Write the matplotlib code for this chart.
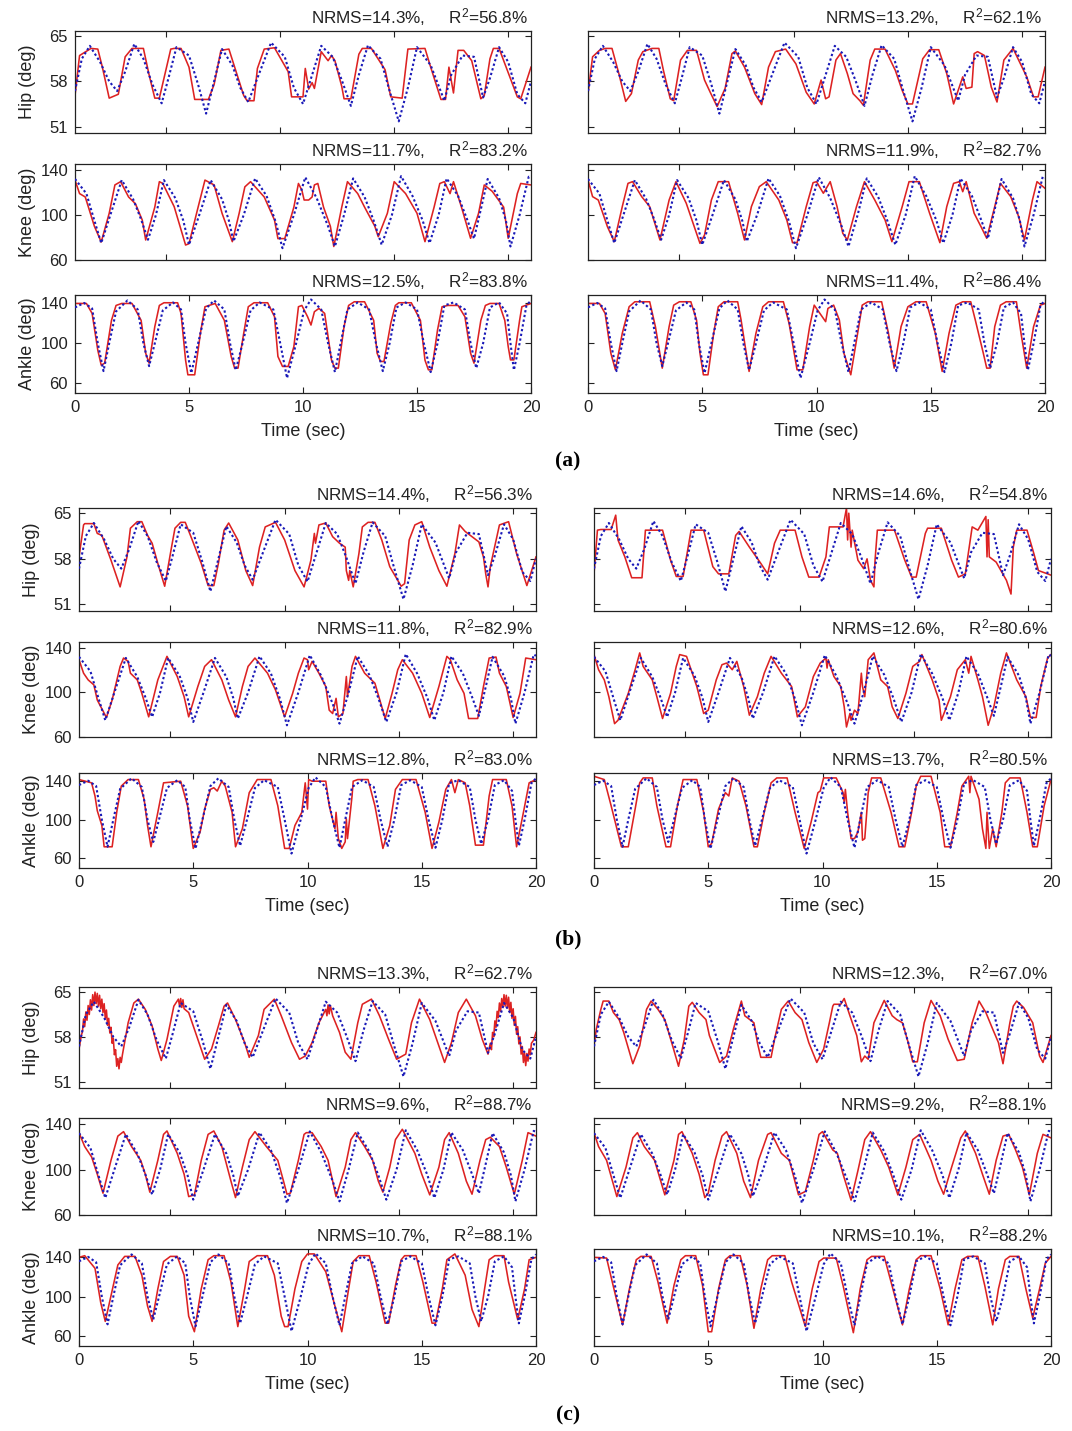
import matplotlib
matplotlib.use('Agg')
import matplotlib.pyplot as plt

plt.rcParams['font.family'] = ['Liberation Sans', 'DejaVu Sans']
plt.rcParams['mathtext.default'] = 'regular'

# measured joint angles (blue dotted) - same trial in every panel
meas_hip_t = [0, 0.3, 0.65, 1.1, 1.5, 1.85, 2.2, 2.6, 3.0, 3.4, 3.8, 4.1, 4.45, 5.0, 5.4, 5.75, 6.1, 6.45, 6.9, 7.25, 7.6, 8.0, 8.6, 9.2, 9.6, 10.0, 10.4, 10.8, 11.3, 11.7, 12.1, 12.45, 12.85, 13.4, 13.8, 14.2, 14.6, 15.0, 15.6, 16.2, 16.5, 17.0, 17.5, 17.9, 18.2, 18.6, 19.0, 19.4, 19.75, 20.0]
meas_hip = [56.5, 61.5, 63.5, 61.0, 58.0, 56.5, 59.5, 63.8, 61.5, 57.5, 54.6, 58.5, 63.3, 62.0, 57.5, 53.0, 58.0, 63.0, 60.5, 57.0, 54.8, 58.5, 64.0, 61.8, 57.0, 54.5, 59.0, 63.5, 61.8, 58.2, 54.2, 59.0, 63.6, 61.5, 56.5, 51.8, 57.0, 63.3, 60.5, 55.0, 59.0, 62.0, 61.8, 55.5, 58.5, 63.3, 61.0, 56.0, 54.6, 58.0]
meas_knee_t = [0, 0.5, 0.85, 1.15, 1.55, 2.05, 2.55, 2.9, 3.2, 3.55, 3.9, 4.4, 4.75, 5.0, 5.45, 5.95, 6.45, 6.75, 6.95, 7.4, 7.9, 8.4, 8.8, 9.1, 9.6, 10.1, 10.6, 11.1, 11.4, 11.8, 12.2, 12.7, 13.1, 13.45, 13.9, 14.3, 14.8, 15.25, 15.55, 15.95, 16.3, 16.8, 17.2, 17.5, 17.8, 18.1, 18.6, 18.9, 19.1, 19.5, 19.9, 20.0]
meas_knee = [132, 119, 95, 75, 100, 131, 114, 96, 78, 100, 131, 115, 95, 73.5, 100, 131, 114, 95, 76.5, 100, 132.5, 117, 94, 70.5, 100, 133.5, 115, 90, 72, 100, 132.5, 116, 95, 73.5, 100, 134.5, 117, 95, 75, 100, 132.5, 117, 96, 79, 105, 132, 115, 95, 72, 100, 134, 133]
meas_ankle_t = [0, 0.4, 0.75, 1.0, 1.25, 1.5, 1.8, 2.3, 2.75, 3.0, 3.25, 3.5, 3.85, 4.3, 4.65, 4.85, 5.1, 5.4, 5.75, 6.1, 6.55, 6.8, 7.05, 7.35, 7.7, 8.1, 8.7, 9.0, 9.3, 9.7, 10.05, 10.35, 10.8, 11.1, 11.4, 11.65, 11.95, 12.4, 12.9, 13.2, 13.5, 13.8, 14.1, 14.5, 15.0, 15.3, 15.6, 15.9, 16.2, 16.6, 17.1, 17.35, 17.6, 17.9, 18.2, 18.6, 18.95, 19.1, 19.25, 19.5, 19.8, 20.0]
meas_ankle = [136, 140.5, 135, 100, 72, 100, 132, 143, 134, 100, 77, 100, 133, 141, 134, 100, 70, 100, 135, 143, 134, 100, 73, 100, 133, 141, 134, 100, 65, 100, 133, 144, 134, 100, 71, 100, 134, 141, 134, 100, 72, 100, 136, 141, 134, 100, 71, 100, 138, 141, 134, 100, 75, 100, 136, 141, 130, 100, 73, 100, 138, 143]

# estimated joint angles (red), figure (a)
est_a_left_hip_t = [0, 0.2, 0.7, 1.0, 1.2, 1.5, 1.9, 2.2, 2.5, 3.0, 3.25, 3.5, 3.7, 4.2, 4.35, 4.65, 5.0, 5.25, 5.85, 6.1, 6.4, 6.75, 7.4, 7.55, 7.85, 8.0, 8.3, 8.75, 9.35, 9.5, 10.0, 10.1, 10.25, 10.4, 10.5, 10.8, 11.1, 11.25, 11.4, 11.7, 11.8, 12.1, 12.45, 12.6, 13.0, 13.6, 13.85, 14.35, 14.6, 15.35, 15.6, 16.05, 16.25, 16.4, 16.6, 16.8, 17.05, 17.4, 17.8, 17.95, 18.2, 18.35, 18.6, 19.4, 19.55, 20.0]
est_a_left_hip = [55.8, 62.0, 63.1, 63.0, 60.2, 55.4, 56.0, 61.8, 63.1, 63.1, 59.0, 55.4, 55.4, 63.0, 63.1, 63.1, 60.2, 55.2, 55.2, 57.5, 62.8, 63.0, 55.8, 55.0, 55.0, 60.0, 63.0, 63.2, 59.5, 55.6, 55.6, 60.0, 56.8, 57.8, 56.9, 62.6, 61.2, 62.0, 61.2, 57.2, 55.3, 55.3, 62.2, 63.1, 63.1, 59.8, 55.6, 55.4, 63.0, 63.1, 60.2, 55.2, 55.2, 60.2, 56.2, 62.8, 62.8, 61.2, 55.3, 55.8, 61.5, 63.1, 63.1, 55.6, 55.3, 60.2]
est_a_left_knee_t = [0, 0.2, 0.45, 0.85, 1.15, 1.5, 1.75, 2.0, 2.35, 2.65, 2.95, 3.1, 3.5, 3.7, 3.85, 4.35, 4.85, 5.0, 5.4, 5.7, 6.1, 6.45, 6.9, 7.2, 7.45, 7.7, 8.3, 8.75, 8.9, 9.2, 9.6, 9.8, 9.95, 10.05, 10.25, 10.4, 10.5, 10.65, 10.9, 11.2, 11.35, 11.7, 11.95, 12.4, 12.7, 13.15, 13.3, 13.7, 14.0, 14.5, 15.0, 15.35, 15.75, 16.0, 16.2, 16.45, 16.6, 16.95, 17.35, 17.7, 17.95, 18.3, 18.8, 19.0, 19.4, 19.55, 20.0]
est_a_left_knee = [131, 119, 116, 90, 76, 101.5, 126.7, 129.6, 116, 110, 95.5, 77.8, 107, 129.6, 128, 107.4, 73.3, 74.5, 107, 131, 126.7, 101.5, 76.3, 101.5, 125, 129.6, 116, 95.5, 79, 79, 107, 128, 122, 113.3, 113.3, 116, 126.7, 128, 107, 90, 72, 107, 129.6, 119, 107, 90, 80.7, 101.5, 129.6, 119, 101.5, 76.3, 107, 128, 129.6, 119, 129.6, 107, 79.3, 101.5, 126.7, 121, 107, 79.3, 119, 128, 126.7]
est_a_left_ankle_t = [0, 0.5, 0.75, 1.0, 1.15, 1.3, 1.6, 1.8, 2.05, 2.5, 2.9, 3.1, 3.25, 3.5, 3.7, 3.9, 4.5, 4.65, 4.85, 4.95, 5.25, 5.5, 5.7, 6.15, 6.55, 6.85, 7.0, 7.15, 7.4, 7.6, 7.85, 8.45, 8.75, 8.9, 9.1, 9.35, 9.6, 9.8, 9.95, 10.2, 10.35, 10.5, 10.7, 10.95, 11.25, 11.4, 11.55, 11.8, 12.0, 12.25, 12.7, 13.1, 13.25, 13.4, 13.55, 13.85, 14.05, 14.2, 14.75, 15.15, 15.35, 15.5, 15.65, 15.9, 16.1, 16.35, 16.8, 17.1, 17.35, 17.5, 17.8, 18.0, 18.2, 18.6, 18.85, 19.0, 19.1, 19.25, 19.5, 19.6, 20.0]
est_a_left_ankle = [140, 140, 130, 93, 78, 80, 123, 138, 140, 140, 123, 90, 80, 116.7, 138, 140.7, 140.7, 130, 83, 68.3, 68.3, 110, 136.7, 140, 123, 86.7, 75, 75, 110, 136.7, 140.7, 140.7, 126.7, 86.7, 76.7, 76.7, 96.7, 136.7, 138, 126.7, 118.3, 131.7, 135, 130, 83, 75, 75, 116.7, 138, 141.7, 141.7, 123, 90, 81.7, 81.7, 120, 138, 140.7, 140.7, 123, 83, 73.3, 73.3, 113.3, 136.7, 138, 138, 126.7, 90, 80, 123, 138, 140, 140, 123, 96.7, 83.3, 83.3, 123, 136.7, 140]
est_a_right_hip_t = [0, 0.2, 0.5, 0.75, 1.05, 1.35, 1.65, 1.9, 2.2, 2.4, 2.8, 3.1, 3.3, 3.6, 3.75, 4.05, 4.35, 4.75, 5.1, 5.35, 5.65, 6.0, 6.3, 6.45, 6.85, 7.3, 7.6, 7.9, 8.2, 8.65, 9.1, 9.55, 9.9, 10.2, 10.4, 10.55, 10.85, 11.05, 11.35, 11.6, 11.9, 12.05, 12.35, 12.55, 13.0, 13.45, 13.75, 14.0, 14.2, 14.65, 14.95, 15.35, 15.7, 16.0, 16.4, 16.55, 16.8, 16.9, 17.05, 17.35, 17.65, 17.9, 18.2, 18.6, 19.2, 19.5, 19.7, 20.0]
est_a_right_hip = [56.1, 61.8, 62.8, 63.1, 63.1, 59.2, 54.9, 56.1, 61.3, 62.6, 63.1, 63.1, 59.7, 55.3, 55.0, 61.3, 62.8, 62.8, 58.2, 56.3, 54.1, 56.9, 62.3, 62.7, 60.2, 56.1, 54.4, 60.2, 62.6, 63.0, 60.7, 56.3, 54.5, 58.2, 55.3, 55.6, 61.3, 62.3, 59.2, 56.1, 55.0, 54.3, 61.3, 63.0, 63.0, 59.7, 56.6, 54.5, 54.5, 61.5, 62.9, 62.9, 59.2, 54.5, 58.7, 56.9, 57.1, 62.3, 62.6, 62.0, 57.1, 54.8, 61.3, 63.1, 58.7, 55.6, 55.6, 60.2]
est_a_right_knee_t = [0, 0.2, 0.45, 0.85, 1.15, 1.5, 1.75, 1.95, 2.35, 2.7, 3.15, 3.55, 3.85, 4.3, 4.65, 4.9, 5.1, 5.4, 5.7, 6.15, 6.55, 6.85, 7.15, 7.5, 7.8, 8.35, 8.7, 8.95, 9.15, 9.55, 9.85, 10.0, 10.3, 10.6, 10.9, 11.15, 11.35, 11.75, 12.1, 12.55, 13.0, 13.3, 13.75, 14.05, 14.5, 14.95, 15.4, 15.7, 16.0, 16.25, 16.4, 16.55, 16.9, 17.2, 17.45, 17.8, 18.05, 18.5, 18.85, 19.1, 19.45, 19.65, 20.0]
est_a_right_knee = [131.1, 116.3, 113.3, 89.6, 76.3, 107.4, 128.1, 129.6, 116.3, 107.4, 77.8, 113.3, 129.6, 110.4, 89.6, 74.8, 82.2, 113.3, 129.6, 129.6, 101.5, 77.8, 107.4, 125.2, 129.6, 113.3, 95.6, 75.4, 75.4, 107.4, 128.7, 129.6, 119.3, 129.6, 107.4, 83.7, 77.8, 107.4, 129.6, 113.3, 95.6, 76.3, 107.4, 129.6, 129.6, 101.5, 75.4, 107.4, 128.1, 129.6, 120.7, 129.6, 101.5, 89.6, 79.3, 107.4, 128.1, 116.3, 98.5, 77.8, 113.3, 129.6, 123.7]
est_a_right_ankle_t = [0, 0.5, 0.75, 1.0, 1.2, 1.5, 1.8, 2.05, 2.7, 2.95, 3.25, 3.55, 3.75, 4.0, 4.5, 4.75, 4.9, 5.05, 5.25, 5.5, 5.7, 5.95, 6.55, 6.7, 7.05, 7.35, 7.65, 7.9, 8.55, 8.8, 9.15, 9.4, 9.7, 9.9, 10.2, 10.4, 10.5, 10.75, 11.0, 11.2, 11.5, 11.8, 12.0, 12.25, 12.85, 13.15, 13.4, 13.7, 14.0, 14.35, 14.8, 15.2, 15.5, 15.8, 16.1, 16.4, 16.75, 16.95, 17.3, 17.45, 17.6, 17.8, 18.05, 18.3, 18.75, 18.95, 19.2, 19.5, 19.8, 20.0]
est_a_right_ankle = [140, 140, 130, 90, 73.3, 110, 136.7, 141.7, 141.7, 116.7, 75, 116.7, 138.3, 141.7, 141.7, 123.3, 90, 68.3, 68.3, 110, 136.7, 141.7, 141.7, 123.3, 71.7, 110, 136.7, 141.7, 141.7, 120, 73.3, 73.3, 116.7, 138.3, 128.3, 121.7, 135, 138.3, 123.3, 90, 68.3, 110, 138.3, 141.7, 141.7, 110, 75, 116.7, 136.7, 141.7, 141.7, 110, 71.7, 110, 138.3, 141.7, 141.7, 123.3, 90, 75, 75, 116.7, 138.3, 141.7, 141.7, 110, 75, 116.7, 138.3, 140]

# figure (b)
est_b_left_hip_t = [0, 0.2, 0.25, 0.65, 0.8, 1.0, 1.4, 1.8, 2.1, 2.25, 2.55, 2.75, 3.0, 3.2, 3.45, 3.75, 4.05, 4.2, 4.45, 4.65, 4.9, 5.35, 5.65, 5.9, 6.1, 6.35, 6.55, 6.95, 7.3, 7.6, 7.9, 8.15, 8.6, 9.0, 9.45, 9.85, 10.15, 10.3, 10.35, 10.5, 10.8, 11.1, 11.4, 11.65, 11.7, 11.8, 11.85, 12.0, 12.25, 12.4, 12.65, 12.95, 13.25, 13.6, 14.1, 14.25, 14.45, 14.7, 15.0, 15.35, 15.75, 16.1, 16.45, 16.65, 16.9, 17.5, 17.7, 17.8, 17.9, 18.0, 18.4, 18.8, 19.15, 19.6, 20.0]
est_b_left_hip = [58.3, 63.2, 63.4, 63.4, 61.9, 61.6, 57.8, 53.7, 58.3, 62.7, 63.7, 63.7, 61.6, 60.4, 57.3, 53.8, 59.8, 62.7, 63.6, 63.6, 61.4, 57.3, 53.9, 53.9, 57.3, 62.4, 63.5, 60.9, 56.2, 53.9, 59.8, 62.9, 63.6, 60.9, 56.2, 53.7, 57.8, 61.9, 60.4, 63.2, 63.5, 61.4, 60.4, 59.8, 56.2, 54.7, 56.2, 53.7, 58.8, 62.9, 63.6, 63.6, 60.9, 56.8, 53.8, 54.2, 60.9, 63.2, 63.7, 59.8, 56.2, 53.8, 58.8, 63.2, 62.2, 60.6, 58.3, 55.7, 53.7, 56.8, 63.2, 63.7, 58.8, 53.9, 58.3]
est_b_left_knee_t = [0, 0.2, 0.4, 0.65, 0.8, 1.2, 1.45, 1.8, 1.95, 2.15, 2.25, 2.55, 2.75, 3.05, 3.45, 3.85, 4.3, 4.6, 4.8, 5.2, 5.5, 5.8, 6.25, 6.55, 6.85, 7.15, 7.4, 7.7, 8.25, 8.6, 9.0, 9.35, 9.6, 9.85, 10.0, 10.05, 10.2, 10.5, 10.8, 10.95, 11.1, 11.25, 11.35, 11.55, 11.7, 11.75, 11.95, 12.1, 12.5, 12.95, 13.4, 13.7, 13.95, 14.15, 14.6, 15.0, 15.35, 15.75, 16.1, 16.25, 16.55, 16.85, 17.05, 17.45, 17.7, 17.95, 18.25, 18.4, 18.7, 19.0, 19.3, 19.55, 20.0]
est_b_left_knee = [129.4, 117.3, 111.3, 106.8, 93.2, 77.5, 93.2, 123.4, 130.9, 127.9, 117.3, 111.3, 99.2, 78.1, 111.3, 132.4, 114.3, 96.2, 78.1, 105.3, 123.4, 129.4, 111.3, 93.2, 78.1, 105.3, 123.4, 130.9, 117.3, 102.2, 78.1, 99.2, 117.3, 130.9, 129.4, 120.4, 127.9, 117.3, 105.3, 84.1, 81.1, 94.7, 78.1, 81.1, 114.3, 96.2, 123.4, 132.4, 117.3, 108.3, 76.6, 99.2, 120.4, 129.4, 117.3, 99.2, 77.5, 105.3, 132.4, 129.4, 111.3, 99.2, 76.6, 76.6, 105.3, 130.9, 131.8, 117.3, 105.3, 77.5, 99.2, 130.9, 129.4]
est_b_left_ankle_t = [0, 0.55, 0.7, 0.8, 1.0, 1.1, 1.45, 1.65, 1.85, 2.15, 2.6, 2.85, 3.0, 3.15, 3.45, 3.7, 4.45, 4.75, 5.0, 5.3, 5.5, 5.75, 5.9, 6.05, 6.25, 6.4, 6.7, 6.85, 7.15, 7.45, 7.8, 8.4, 8.7, 9.0, 9.2, 9.45, 9.75, 9.9, 10.0, 10.05, 10.2, 10.8, 10.95, 11.2, 11.25, 11.35, 11.5, 11.65, 11.7, 11.75, 11.95, 12.0, 12.2, 12.65, 12.95, 13.3, 13.6, 13.85, 14.15, 14.75, 15.15, 15.45, 15.75, 16.05, 16.3, 16.45, 16.6, 16.9, 17.1, 17.35, 17.7, 17.95, 18.1, 18.7, 18.95, 19.15, 19.45, 19.7, 20.0]
est_b_left_ankle = [141.7, 138.3, 124.7, 109.4, 94.1, 72.0, 72.0, 107.7, 134.9, 141.7, 141.7, 121.3, 94.1, 72.0, 107.7, 138.3, 140, 114.5, 70.3, 87.3, 111.1, 131.5, 133.2, 129.8, 140, 134.9, 107.7, 72.0, 90.7, 128.1, 141.7, 141.7, 114.5, 70.3, 70.3, 94.1, 107.7, 138.3, 111.1, 141.7, 140, 140, 114.5, 90.7, 107.7, 80.5, 70.3, 77.1, 100.9, 80.5, 124.7, 140, 141.7, 141.7, 114.5, 70.3, 94.1, 131.5, 141.7, 141.7, 107.7, 70.3, 97.5, 131.5, 141.7, 128.1, 141.7, 138.3, 114.5, 73.7, 73.7, 124.7, 141.7, 141.7, 114.5, 72.0, 107.7, 138.3, 141.7]
est_b_right_hip_t = [0, 0.15, 0.3, 0.75, 0.95, 1.05, 1.35, 1.65, 2.1, 2.25, 2.4, 3.0, 3.35, 3.6, 3.9, 4.25, 4.35, 4.8, 5.2, 5.45, 5.9, 6.2, 6.35, 6.8, 7.3, 7.6, 7.9, 8.15, 8.8, 9.1, 9.4, 9.85, 10.15, 10.3, 10.9, 11.05, 11.1, 11.15, 11.25, 11.3, 11.55, 11.8, 11.95, 12.1, 12.25, 12.3, 12.4, 13.15, 13.6, 13.9, 14.1, 14.5, 14.6, 15.2, 15.65, 15.95, 16.25, 16.55, 16.8, 17.15, 17.2, 17.25, 17.3, 17.6, 18.05, 18.25, 18.35, 18.5, 18.95, 19.25, 19.45, 19.85, 20.0]
est_b_right_hip = [55.7, 62.4, 62.5, 62.5, 64.7, 60.9, 58.3, 55.1, 55.1, 62.4, 62.4, 62.4, 57.8, 55.3, 55.3, 62.4, 62.4, 62.4, 56.8, 55.7, 55.7, 61.6, 62.2, 59.8, 57.3, 55.7, 60.4, 62.4, 62.4, 58.3, 55.2, 55.2, 58.3, 62.9, 62.9, 65.8, 60.9, 65.0, 59.8, 62.4, 57.8, 56.5, 58.0, 54.7, 53.7, 57.8, 62.4, 62.4, 57.8, 55.2, 55.2, 61.9, 62.7, 62.7, 57.8, 55.2, 55.7, 62.9, 62.4, 64.5, 58.3, 64.0, 58.3, 57.5, 54.7, 52.6, 59.8, 62.4, 62.4, 58.8, 56.2, 55.7, 55.5]
est_b_right_knee_t = [0, 0.2, 0.45, 0.65, 0.9, 1.05, 1.5, 1.8, 2.0, 2.15, 2.55, 2.75, 3.0, 3.35, 3.6, 3.75, 4.05, 4.5, 4.8, 5.0, 5.35, 5.6, 5.8, 6.05, 6.25, 6.55, 6.8, 7.15, 7.45, 7.75, 8.2, 8.65, 8.9, 9.25, 9.6, 9.9, 10.15, 10.2, 10.25, 10.5, 10.8, 10.95, 11.05, 11.2, 11.25, 11.4, 11.55, 11.7, 11.75, 11.85, 12.0, 12.25, 12.55, 12.85, 13.05, 13.3, 13.65, 13.95, 14.25, 14.35, 14.8, 15.1, 15.2, 15.6, 15.9, 16.25, 16.4, 16.5, 16.8, 17.0, 17.25, 17.5, 17.8, 18.05, 18.5, 18.9, 19.1, 19.35, 19.55, 19.85, 20.0]
est_b_right_knee = [134.0, 120.4, 111.3, 96.2, 72.0, 75.0, 99.2, 120.4, 135.5, 123.4, 111.3, 96.2, 76.6, 99.2, 123.4, 134.0, 132.4, 105.3, 81.1, 84.1, 111.3, 124.9, 126.4, 120.4, 127.9, 105.3, 79.6, 96.2, 117.3, 132.4, 117.3, 105.3, 78.1, 87.1, 114.3, 126.4, 130.9, 121.9, 129.4, 114.3, 105.3, 87.1, 69.0, 81.1, 75.0, 84.1, 81.1, 117.3, 105.3, 96.2, 129.4, 135.5, 111.3, 105.3, 87.1, 76.6, 99.2, 123.4, 127.9, 134.0, 111.3, 93.2, 75.0, 96.2, 120.4, 129.4, 117.3, 132.4, 111.3, 96.2, 70.5, 87.1, 117.3, 135.5, 111.3, 96.2, 77.5, 77.5, 105.3, 130.9, 134.0]
est_b_right_ankle_t = [0, 0.45, 0.75, 1.2, 1.5, 1.8, 2.0, 2.15, 2.55, 2.75, 3.15, 3.35, 3.65, 3.9, 4.5, 4.8, 5.0, 5.15, 5.45, 5.75, 5.9, 6.05, 6.35, 6.65, 7.0, 7.15, 7.45, 7.75, 8.0, 8.45, 8.8, 9.2, 9.5, 9.8, 9.9, 10.05, 10.6, 10.9, 10.95, 11.0, 11.1, 11.25, 11.4, 11.55, 11.7, 11.75, 11.85, 12.0, 12.15, 12.55, 13.0, 13.35, 13.6, 13.9, 14.1, 14.3, 14.75, 15.15, 15.35, 15.6, 15.9, 16.1, 16.4, 16.45, 16.5, 16.85, 17.0, 17.15, 17.2, 17.3, 17.45, 17.6, 17.85, 18.0, 18.2, 18.65, 18.95, 19.2, 19.4, 19.7, 20.0]
est_b_right_ankle = [145.1, 141.7, 114.5, 72.0, 72.0, 111.1, 138.3, 143.4, 143.4, 114.5, 72.0, 72.0, 114.5, 141.7, 141.7, 107.7, 72.0, 75.4, 111.1, 128.1, 124.7, 143.4, 140, 114.5, 72.0, 72.0, 107.7, 138.3, 143.4, 143.4, 107.7, 70.3, 97.5, 128.1, 129.8, 143.4, 143.4, 128.1, 117.9, 131.5, 107.7, 80.5, 80.5, 87.3, 107.7, 78.8, 80.5, 128.1, 143.4, 143.4, 107.7, 72.0, 72.0, 107.7, 134.9, 145.1, 145.1, 107.7, 72.0, 72.0, 107.7, 134.9, 145.1, 128.1, 145.1, 121.3, 90.7, 70.3, 107.7, 70.3, 90.7, 72.0, 107.7, 138.3, 143.4, 143.4, 107.7, 72.0, 72.0, 114.5, 141.7]

# figure (c)
est_c_left_hip_t = [0, 0.1, 0.15, 0.2, 0.25, 0.3, 0.35, 0.4, 0.45, 0.5, 0.55, 0.6, 0.65, 0.7, 0.75, 0.8, 0.85, 0.9, 0.95, 1.0, 1.05, 1.1, 1.15, 1.2, 1.25, 1.3, 1.35, 1.4, 1.45, 1.5, 1.55, 1.6, 1.65, 1.7, 1.75, 1.8, 1.85, 1.9, 2.15, 2.4, 2.6, 2.9, 3.2, 3.45, 3.6, 3.85, 4.15, 4.35, 4.4, 4.45, 4.5, 4.55, 4.6, 4.8, 5.2, 5.5, 5.8, 6.1, 6.35, 6.5, 6.85, 7.25, 7.45, 7.85, 8.1, 8.55, 8.85, 9.3, 9.65, 9.9, 10.2, 10.5, 10.8, 10.85, 10.9, 10.95, 11.0, 11.1, 11.4, 11.65, 11.9, 12.2, 12.4, 12.8, 13.15, 13.55, 13.9, 14.15, 14.3, 14.55, 14.9, 15.35, 15.75, 16.0, 16.3, 16.6, 16.95, 17.35, 17.65, 17.9, 18.0, 18.05, 18.1, 18.15, 18.2, 18.25, 18.3, 18.35, 18.4, 18.45, 18.5, 18.55, 18.6, 18.65, 18.7, 18.75, 18.8, 18.85, 18.9, 18.95, 19.0, 19.05, 19.1, 19.15, 19.2, 19.25, 19.3, 19.35, 19.4, 19.45, 19.5, 19.55, 19.6, 19.65, 19.7, 19.75, 19.8, 19.9, 20.0]
est_c_left_hip = [56.1, 58.2, 58.8, 60.8, 59.6, 61.9, 60.6, 62.9, 61.5, 63.8, 62.2, 64.6, 62.9, 65.0, 63.2, 64.8, 62.8, 64.5, 62.4, 63.9, 61.8, 63.2, 60.9, 62.2, 59.8, 60.9, 58.6, 59.5, 57.0, 57.8, 55.2, 56.0, 53.4, 54.6, 53.0, 54.8, 54.0, 55.2, 60.2, 63.3, 63.9, 62.3, 59.7, 56.1, 54.3, 57.6, 62.8, 63.9, 62.8, 64.0, 62.6, 63.8, 62.4, 61.8, 57.6, 54.5, 56.1, 59.7, 62.8, 63.3, 60.7, 57.1, 54.8, 58.2, 62.3, 63.9, 61.3, 57.1, 54.5, 55.0, 57.1, 60.2, 62.3, 61.3, 63.0, 61.6, 62.9, 61.3, 58.7, 55.6, 54.5, 60.2, 63.1, 63.9, 61.3, 57.6, 54.5, 55.0, 55.3, 60.2, 63.9, 60.7, 56.6, 54.0, 57.1, 61.8, 63.9, 61.3, 57.6, 55.3, 57.0, 56.0, 58.7, 58.0, 60.5, 59.5, 62.0, 61.0, 63.3, 62.0, 64.0, 62.6, 64.6, 62.8, 64.5, 62.5, 64.2, 61.8, 63.4, 60.9, 62.4, 59.8, 61.2, 58.4, 59.6, 56.9, 58.0, 55.3, 56.5, 54.0, 55.5, 53.5, 55.4, 54.2, 56.1, 55.2, 57.0, 57.5, 58.7]
est_c_left_knee_t = [0, 0.25, 0.55, 0.8, 1.05, 1.4, 1.7, 1.95, 2.3, 2.7, 2.9, 3.1, 3.45, 3.7, 3.85, 4.3, 4.6, 4.8, 5.05, 5.35, 5.65, 5.9, 6.25, 6.65, 6.85, 7.15, 7.45, 7.7, 8.2, 8.7, 8.95, 9.1, 9.25, 9.6, 9.85, 9.95, 10.2, 10.6, 10.9, 11.25, 11.65, 11.9, 12.1, 12.5, 12.85, 13.1, 13.3, 13.6, 13.85, 14.15, 14.7, 15.0, 15.35, 15.75, 16.0, 16.2, 16.6, 16.95, 17.2, 17.55, 17.8, 18.0, 18.4, 18.7, 19.05, 19.4, 19.65, 20.0]
est_c_left_knee = [132.4, 120.2, 111.1, 95.9, 79.2, 108.1, 129.4, 133.3, 120.2, 108.1, 95.9, 80.1, 108.1, 130.9, 133.9, 114.2, 95.9, 76.2, 77.7, 108.1, 130.9, 133.9, 120.2, 89.8, 75.3, 102.0, 126.3, 133.3, 120.2, 108.1, 89.8, 78.3, 79.2, 108.1, 130.9, 132.4, 132.4, 120.2, 108.1, 76.2, 102.0, 126.3, 132.4, 120.2, 108.1, 89.8, 80.1, 102.0, 126.3, 135.4, 114.2, 95.9, 77.7, 102.0, 126.3, 132.4, 114.2, 89.8, 78.3, 108.1, 126.3, 128.4, 120.2, 102.0, 78.3, 108.1, 132.4, 129.4]
est_c_left_ankle_t = [0, 0.25, 0.7, 0.95, 1.15, 1.4, 1.7, 2.0, 2.45, 2.75, 3.0, 3.2, 3.45, 3.7, 4.0, 4.3, 4.6, 4.8, 5.05, 5.35, 5.65, 5.9, 6.35, 6.65, 6.95, 7.25, 7.45, 7.8, 8.25, 8.55, 8.85, 9.0, 9.15, 9.45, 9.75, 10.0, 10.3, 10.8, 11.2, 11.5, 11.8, 12.0, 12.25, 12.7, 13.0, 13.4, 13.55, 13.85, 14.1, 14.25, 14.75, 15.05, 15.45, 15.6, 15.9, 16.1, 16.45, 16.9, 17.2, 17.5, 17.75, 17.95, 18.2, 18.6, 18.8, 19.2, 19.5, 19.7, 20.0]
est_c_left_ankle = [140, 141.7, 128.9, 94.1, 75.0, 101.0, 132.3, 141.0, 141.0, 121.9, 90.6, 75.0, 108.0, 135.8, 141.0, 141.0, 121.9, 80.2, 64.5, 108.0, 137.6, 141.7, 141.7, 115.0, 69.7, 108.0, 135.8, 141.7, 141.7, 121.9, 80.2, 69.7, 69.7, 108.0, 135.8, 143.5, 143.5, 125.4, 90.6, 64.5, 108.0, 135.8, 141.7, 141.7, 115.0, 73.2, 73.2, 111.5, 137.6, 141.7, 141.7, 115.0, 73.2, 73.2, 108.0, 137.6, 143.5, 121.9, 87.1, 69.7, 108.0, 137.6, 141.7, 141.7, 115.0, 76.7, 108.0, 137.6, 140]
est_c_right_hip_t = [0, 0.1, 0.3, 0.4, 0.65, 0.85, 1.1, 1.3, 1.7, 2.0, 2.3, 2.5, 2.8, 3.1, 3.4, 3.7, 3.95, 4.15, 4.3, 4.6, 4.9, 5.05, 5.5, 5.8, 6.1, 6.45, 6.6, 7.0, 7.15, 7.3, 7.75, 7.9, 8.2, 8.5, 8.8, 9.1, 9.4, 9.75, 10.05, 10.3, 10.45, 10.5, 10.8, 10.95, 11.2, 11.5, 11.7, 11.85, 12.0, 12.25, 12.7, 13.05, 13.25, 13.5, 13.75, 13.95, 14.15, 14.45, 14.75, 15.15, 15.5, 15.9, 16.2, 16.55, 16.85, 17.15, 17.45, 17.7, 17.9, 18.2, 18.35, 18.5, 18.8, 19.2, 19.5, 19.65, 20.0]
est_c_right_hip = [56.6, 59.2, 62.3, 63.6, 63.6, 61.8, 60.7, 58.7, 53.8, 56.6, 62.3, 63.6, 62.3, 60.7, 57.1, 53.4, 57.6, 62.8, 63.4, 61.8, 60.7, 58.2, 54.0, 55.0, 59.2, 63.6, 61.3, 60.2, 57.1, 54.8, 54.8, 57.6, 62.3, 63.6, 61.8, 60.7, 57.1, 54.0, 56.1, 60.2, 62.8, 63.1, 63.1, 64.0, 61.3, 58.2, 54.1, 55.0, 54.5, 60.2, 63.7, 61.3, 60.7, 60.2, 57.1, 54.1, 54.1, 60.2, 63.7, 61.3, 57.6, 54.3, 54.5, 60.2, 63.6, 61.8, 59.2, 57.1, 53.8, 60.2, 62.8, 63.6, 62.6, 60.2, 55.0, 54.0, 58.2]
est_c_right_knee_t = [0, 0.2, 0.55, 1.0, 1.4, 1.7, 1.9, 2.2, 2.65, 3.1, 3.5, 3.7, 3.85, 4.3, 4.6, 4.85, 5.0, 5.3, 5.6, 5.8, 6.25, 6.55, 6.85, 7.2, 7.6, 7.75, 8.2, 8.55, 8.95, 9.25, 9.6, 9.85, 10.0, 10.45, 10.65, 10.9, 11.25, 11.55, 11.85, 12.1, 12.55, 12.9, 13.3, 13.65, 13.95, 14.25, 14.75, 15.05, 15.3, 15.65, 16.05, 16.25, 16.7, 17.0, 17.3, 17.6, 17.9, 18.15, 18.45, 18.75, 19.05, 19.4, 19.65, 20.0]
est_c_right_knee = [132.4, 120.2, 108.1, 76.2, 102.0, 127.8, 132.4, 120.2, 108.1, 77.7, 108.1, 130.9, 133.3, 114.2, 95.9, 75.3, 79.2, 108.1, 129.4, 133.3, 114.2, 89.8, 75.3, 108.1, 130.9, 132.4, 114.2, 108.1, 77.7, 80.7, 108.1, 130.9, 133.3, 117.2, 114.2, 95.9, 73.1, 99.0, 126.3, 133.3, 117.2, 102.0, 77.7, 102.0, 126.3, 130.9, 108.1, 89.8, 78.3, 102.0, 127.8, 133.9, 114.2, 95.9, 78.3, 108.1, 129.4, 130.9, 117.2, 102.0, 77.7, 114.2, 130.9, 127.8]
est_c_right_ankle_t = [0, 0.55, 0.8, 1.25, 1.55, 1.85, 2.05, 2.5, 2.8, 3.2, 3.5, 3.8, 4.0, 4.45, 4.75, 5.0, 5.15, 5.45, 5.75, 5.95, 6.4, 6.7, 7.0, 7.3, 7.6, 7.8, 8.35, 8.65, 9.25, 9.55, 9.85, 10.05, 10.6, 10.9, 11.35, 11.65, 11.95, 12.15, 12.7, 13.0, 13.5, 13.8, 14.1, 14.3, 14.75, 15.15, 15.5, 15.8, 16.1, 16.35, 16.8, 17.1, 17.45, 17.7, 18.0, 18.2, 18.6, 18.9, 19.2, 19.5, 19.75, 20.0]
est_c_right_ankle = [140, 139.3, 115.0, 71.5, 108.0, 137.6, 141.0, 141.0, 115.0, 73.2, 111.5, 137.6, 141.7, 141.7, 111.5, 64.5, 64.5, 108.0, 137.6, 141.7, 141.7, 111.5, 68.0, 108.0, 137.6, 141.7, 141.7, 115.0, 69.7, 108.0, 135.8, 139.3, 139.3, 111.5, 63.5, 108.0, 137.6, 141.0, 141.0, 115.0, 71.5, 108.0, 137.6, 141.7, 141.7, 108.0, 71.5, 108.0, 137.6, 141.0, 141.0, 111.5, 71.5, 108.0, 137.6, 141.0, 141.0, 108.0, 78.4, 108.0, 134.1, 141.0]

# error figures printed above each panel: (NRMS %, R^2 %) for hip, knee, ankle
scores_a_left = [('14.3', '56.8'), ('11.7', '83.2'), ('12.5', '83.8')]
scores_a_right = [('13.2', '62.1'), ('11.9', '82.7'), ('11.4', '86.4')]
scores_b_left = [('14.4', '56.3'), ('11.8', '82.9'), ('12.8', '83.0')]
scores_b_right = [('14.6', '54.8'), ('12.6', '80.6'), ('13.7', '80.5')]
scores_c_left = [('13.3', '62.7'), ('9.6', '88.7'), ('10.7', '88.1')]
scores_c_right = [('12.3', '67.0'), ('9.2', '88.1'), ('10.1', '88.2')]

joint_names = ['Hip (deg)', 'Knee (deg)', 'Ankle (deg)']
joint_ticks = [[51, 58, 65], [60, 100, 140], [60, 100, 140]]
joint_lims = [(50, 65.8), (60, 145.3), (50, 148.5)]
time_ticks = [0, 5, 10, 15, 20]

measured = [(meas_hip_t, meas_hip), (meas_knee_t, meas_knee), (meas_ankle_t, meas_ankle)]
estimated = {
    ('a', 0): [(est_a_left_hip_t, est_a_left_hip), (est_a_left_knee_t, est_a_left_knee), (est_a_left_ankle_t, est_a_left_ankle)],
    ('a', 1): [(est_a_right_hip_t, est_a_right_hip), (est_a_right_knee_t, est_a_right_knee), (est_a_right_ankle_t, est_a_right_ankle)],
    ('b', 0): [(est_b_left_hip_t, est_b_left_hip), (est_b_left_knee_t, est_b_left_knee), (est_b_left_ankle_t, est_b_left_ankle)],
    ('b', 1): [(est_b_right_hip_t, est_b_right_hip), (est_b_right_knee_t, est_b_right_knee), (est_b_right_ankle_t, est_b_right_ankle)],
    ('c', 0): [(est_c_left_hip_t, est_c_left_hip), (est_c_left_knee_t, est_c_left_knee), (est_c_left_ankle_t, est_c_left_ankle)],
    ('c', 1): [(est_c_right_hip_t, est_c_right_hip), (est_c_right_knee_t, est_c_right_knee), (est_c_right_ankle_t, est_c_right_ankle)],
}
scores = {('a', 0): scores_a_left, ('a', 1): scores_a_right,
          ('b', 0): scores_b_left, ('b', 1): scores_b_right,
          ('c', 0): scores_c_left, ('c', 1): scores_c_right}

# page layout in pixels of the 1072x1431 image
W, H = 1072, 1431
col_px = {'a': [(75, 531), (588, 1045)], 'b': [(79, 536), (594, 1051)], 'c': [(79, 536), (594, 1051)]}
row_px = {'a': [(31, 133), (164, 260), (295, 393)],
          'b': [(508, 611), (642, 737), (773, 868)],
          'c': [(987, 1088), (1118, 1215), (1249, 1346)]}
part_label_y = {'a': 461, 'b': 939, 'c': 1415}

fig = plt.figure(figsize=(W / 100, H / 100), dpi=100)

for part in ['a', 'b', 'c']:
    for col in range(2):
        x0, x1 = col_px[part][col]
        for j in range(3):
            y0, y1 = row_px[part][j]
            ax = fig.add_axes([x0 / W, 1 - y1 / H, (x1 - x0) / W, (y1 - y0) / H])
            et, ev = estimated[(part, col)][j]
            mt, mv = measured[j]
            ax.plot(et, ev, color='#dd2222', lw=1.15, zorder=2)
            ax.plot(mt, mv, color='#1a1ab8', lw=1.5, dashes=(1.1, 1.2), zorder=3)
            ax.set_xlim(0, 20)
            ax.set_ylim(*joint_lims[j])
            ax.set_yticks(joint_ticks[j])
            ax.tick_params(direction='in', top=True, right=True, length=4, width=0.8,
                           labelsize=12, pad=5, colors='#222222')
            if j < 2:
                ax.set_xticks([4, 9, 14, 19])
                ax.set_xticklabels([])
            else:
                ax.set_xticks(time_ticks)
                ax.set_xlabel('Time (sec)', fontsize=13, labelpad=6, color='#222222')
            if col == 0:
                ax.set_ylabel(joint_names[j], fontsize=13, color='#222222')
                ax.yaxis.set_label_coords(-0.086, 0.5)
            else:
                ax.set_yticklabels([])
            for s in ax.spines.values():
                s.set_linewidth(0.9)
                s.set_color('#222222')
            nrms, r2 = scores[(part, col)][j]
            ax.annotate('NRMS=' + nrms + '%,     R$^2$=' + r2 + '%', xy=(0.993, 1.0),
                        xycoords='axes fraction', xytext=(0, 2), textcoords='offset points',
                        ha='right', va='bottom', fontsize=12.3, color='#222222')
    fig.text(568 / W, 1 - part_label_y[part] / H, '(' + part + ')', ha='center', va='center',
             fontsize=15.5, fontweight='bold', family='Liberation Serif')

fig.savefig('out.png', dpi=100)
